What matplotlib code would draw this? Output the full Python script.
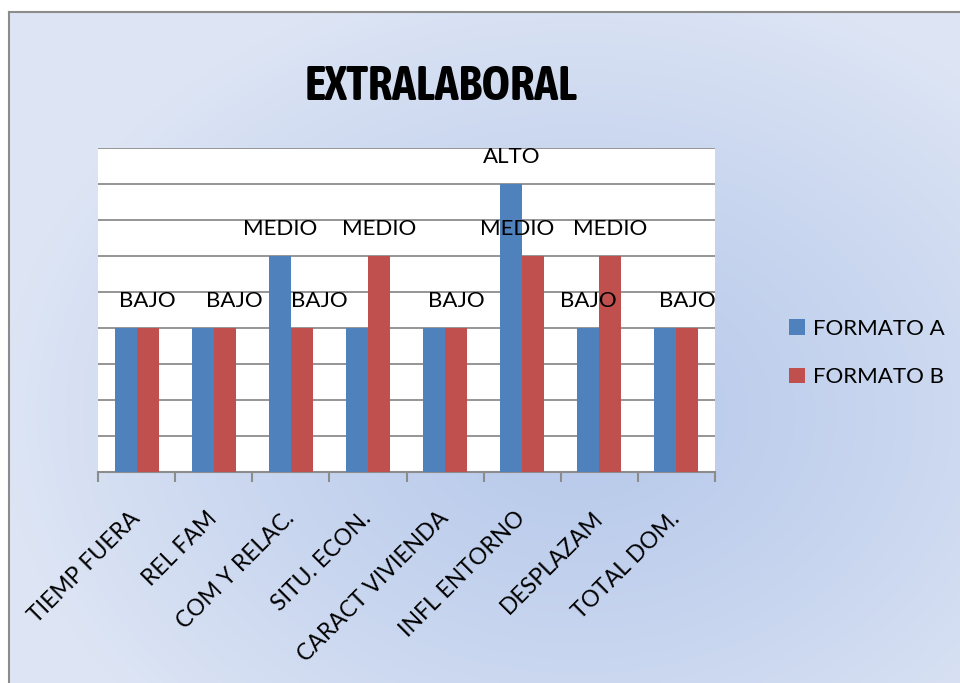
import numpy as np
import matplotlib.pyplot as plt
from matplotlib import font_manager
from matplotlib.patches import Patch

# data (scale: BAJO=4, MEDIO=6, ALTO=8)
categories = ['TIEMP FUERA', 'REL FAM', 'COM Y RELAC.', 'SITU. ECON.',
              'CARACT VIVIENDA', 'INFL ENTORNO', 'DESPLAZAM', 'TOTAL DOM.']
formato_a = [4, 4, 6, 4, 4, 8, 4, 4]
formato_b = [4, 4, 4, 6, 4, 6, 6, 4]
labels_a = ['', '', 'MEDIO', '', '', 'ALTO', 'BAJO', '']
labels_b = ['BAJO', 'BAJO', 'BAJO', 'MEDIO', 'BAJO', 'MEDIO', 'MEDIO', 'BAJO']
series_names = ['FORMATO A', 'FORMATO B']

# small sideways shifts (px) Excel used to keep labels apart
nudge_b = [0, 10, 18, 0, 0, -16, 0, 0]

blue = '#4f81bd'
red = '#c0504d'
plt.rcParams['font.family'] = ['Lato', 'DejaVu Sans']

# the title is in a condensed bold face; use one if the system has it
title_font = None
for f in font_manager.fontManager.ttflist:
    n = f.name.lower()
    if ('condensed' in n or 'narrow' in n) and f.weight in ('bold', 700):
        title_font = f.name
        break
if title_font is None:
    for f in font_manager.fontManager.ttflist:
        n = (f.name + ' ' + f.fname).lower()
        if ('condensed' in n or 'narrow' in n) and ('bold' in f.fname.lower()):
            title_font = f.name
            break

W, H = 960, 683
fig = plt.figure(figsize=(W / 100, H / 100), dpi=100)
fig.patch.set_facecolor('white')

# background: soft radial blue gradient inside the chart frame
bg = fig.add_axes([9 / W, 0, 1 - 9 / W, 1 - 12 / H], zorder=0)
yy, xx = np.mgrid[0:1:300j, 0:1:400j]
r = np.sqrt(((xx - 0.6) / 0.62) ** 2 + ((yy - 0.6) / 0.68) ** 2)
r = np.clip(r, 0, 1) ** 1.3
c_in = np.array([0.72, 0.79, 0.92])
c_out = np.array([0.87, 0.90, 0.96])
img = c_in[None, None, :] * (1 - r[..., None]) + c_out[None, None, :] * r[..., None]
bg.imshow(img, extent=[0, 1, 0, 1], aspect='auto', origin='upper')
bg.set_xlim(0, 1)
bg.set_ylim(0, 1)
bg.set_xticks([])
bg.set_yticks([])
for s in ['right', 'bottom']:
    bg.spines[s].set_visible(False)
for s in ['left', 'top']:
    bg.spines[s].set_color('#8c8c8c')
    bg.spines[s].set_linewidth(1.5)

ax = fig.add_axes([98 / W, 1 - 472 / H, 617 / W, 324 / H], zorder=2)
ax.set_facecolor('white')

x = np.arange(len(categories))
w = 0.285
ax.bar(x - w / 2, formato_a, w, color=blue, zorder=3)
ax.bar(x + w / 2, formato_b, w, color=red, zorder=3)

ax.set_xlim(-0.5, len(categories) - 0.5)
ax.set_ylim(0, 9)
ax.set_yticks(np.arange(0, 10))
ax.yaxis.grid(True, color='#8c8c8c', linewidth=1.3, zorder=0)
ax.set_axisbelow(True)
ax.tick_params(axis='y', length=0, labelleft=False)
for s in ['left', 'right', 'top']:
    ax.spines[s].set_visible(False)
ax.spines['bottom'].set_color('#8c8c8c')
ax.spines['bottom'].set_linewidth(1.5)

ax.set_xticks(x)
ax.set_xticklabels(categories, rotation=45, ha='right', va='center',
                   rotation_mode='anchor', fontsize=16.5)
ax.tick_params(axis='x', which='major', length=0, pad=31)
ax.set_xticks(np.arange(-0.5, len(categories)), minor=True)
ax.tick_params(axis='x', which='minor', length=7, width=1.5, color='#8c8c8c')

for i in range(len(categories)):
    if labels_a[i]:
        ax.annotate(labels_a[i], (x[i] - w / 2, formato_a[i]), xytext=(0, 27 * 0.72),
                    textcoords='offset points', ha='center', va='center',
                    fontsize=16, zorder=5)
    if labels_b[i]:
        ax.annotate(labels_b[i], (x[i] + w / 2, formato_b[i]),
                    xytext=(nudge_b[i] * 0.72, 27 * 0.72),
                    textcoords='offset points', ha='center', va='center',
                    fontsize=16, zorder=5)

if title_font:
    fig.text(441 / W, 1 - 87 / H, 'EXTRALABORAL', ha='center', va='center',
             fontsize=35, fontweight='bold', family=[title_font, 'DejaVu Sans'],
             zorder=5)
else:
    fig.text(441 / W, 1 - 87 / H, 'EXTRALABORAL', ha='center', va='center',
             fontsize=27, fontweight='bold', family=['Liberation Sans', 'DejaVu Sans'],
             zorder=5)

handles = [Patch(facecolor=blue), Patch(facecolor=red)]
leg = fig.legend(handles, series_names, loc='center left',
                 bbox_to_anchor=(769 / W, 1 - 353 / H), frameon=False,
                 fontsize=16, handlelength=0.7, handleheight=0.7,
                 handletextpad=0.4, labelspacing=1.3)
leg.set_zorder(5)

fig.savefig('out.png', dpi=100)
